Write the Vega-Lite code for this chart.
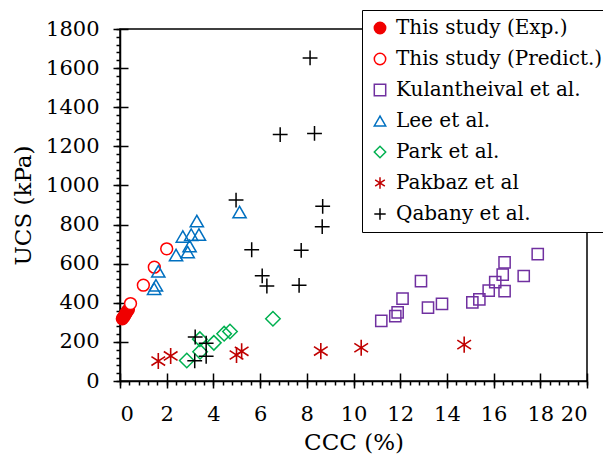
{
  "$schema": "https://vega.github.io/schema/vega-lite/v6.json",
  "width": 467,
  "height": 352,
  "autosize": {"type": "none"},
  "padding": {"left": 120, "top": 29, "right": 16, "bottom": 78},
  "background": "white",
  "config": {
    "view": {"stroke": "black", "strokeWidth": 1.5},
    "axis": {"domainColor": "black", "domainWidth": 1.5, "tickColor": "black", "tickWidth": 1.5, "grid": false}
  },
  "datasets": {
    "pts": [
      {"series": "This study (Exp.)", "ccc": 0.1, "ucs": 318},
      {"series": "This study (Exp.)", "ccc": 0.15, "ucs": 326},
      {"series": "This study (Exp.)", "ccc": 0.2, "ucs": 335},
      {"series": "This study (Exp.)", "ccc": 0.25, "ucs": 345},
      {"series": "This study (Exp.)", "ccc": 0.3, "ucs": 355},
      {"series": "This study (Exp.)", "ccc": 0.36, "ucs": 365},
      {"series": "This study (Predict.)", "ccc": 0.45, "ucs": 396},
      {"series": "This study (Predict.)", "ccc": 1.0, "ucs": 490},
      {"series": "This study (Predict.)", "ccc": 1.47, "ucs": 582},
      {"series": "This study (Predict.)", "ccc": 2.0, "ucs": 676},
      {"series": "Kulantheival et al.", "ccc": 11.19, "ucs": 307},
      {"series": "Kulantheival et al.", "ccc": 11.79, "ucs": 332},
      {"series": "Kulantheival et al.", "ccc": 11.89, "ucs": 351},
      {"series": "Kulantheival et al.", "ccc": 12.1, "ucs": 421},
      {"series": "Kulantheival et al.", "ccc": 12.89, "ucs": 511},
      {"series": "Kulantheival et al.", "ccc": 13.19, "ucs": 375},
      {"series": "Kulantheival et al.", "ccc": 13.79, "ucs": 394},
      {"series": "Kulantheival et al.", "ccc": 15.09, "ucs": 402},
      {"series": "Kulantheival et al.", "ccc": 15.39, "ucs": 417},
      {"series": "Kulantheival et al.", "ccc": 15.79, "ucs": 462},
      {"series": "Kulantheival et al.", "ccc": 16.07, "ucs": 506},
      {"series": "Kulantheival et al.", "ccc": 16.39, "ucs": 544},
      {"series": "Kulantheival et al.", "ccc": 16.47, "ucs": 460},
      {"series": "Kulantheival et al.", "ccc": 16.47, "ucs": 607},
      {"series": "Kulantheival et al.", "ccc": 17.29, "ucs": 537},
      {"series": "Kulantheival et al.", "ccc": 17.89, "ucs": 649},
      {"series": "Lee et al.", "ccc": 1.46, "ucs": 472},
      {"series": "Lee et al.", "ccc": 1.54, "ucs": 489},
      {"series": "Lee et al.", "ccc": 1.64, "ucs": 561},
      {"series": "Lee et al.", "ccc": 2.4, "ucs": 644},
      {"series": "Lee et al.", "ccc": 2.69, "ucs": 739},
      {"series": "Lee et al.", "ccc": 2.9, "ucs": 659},
      {"series": "Lee et al.", "ccc": 2.98, "ucs": 690},
      {"series": "Lee et al.", "ccc": 3.05, "ucs": 748},
      {"series": "Lee et al.", "ccc": 3.38, "ucs": 749},
      {"series": "Lee et al.", "ccc": 3.29, "ucs": 818},
      {"series": "Lee et al.", "ccc": 5.12, "ucs": 864},
      {"series": "Park et al.", "ccc": 2.86, "ucs": 105},
      {"series": "Park et al.", "ccc": 3.43, "ucs": 150},
      {"series": "Park et al.", "ccc": 3.42, "ucs": 214},
      {"series": "Park et al.", "ccc": 4.02, "ucs": 195},
      {"series": "Park et al.", "ccc": 4.46, "ucs": 242},
      {"series": "Park et al.", "ccc": 4.71, "ucs": 253},
      {"series": "Park et al.", "ccc": 6.55, "ucs": 318},
      {"series": "Pakbaz et al", "ccc": 1.64, "ucs": 102},
      {"series": "Pakbaz et al", "ccc": 2.17, "ucs": 128},
      {"series": "Pakbaz et al", "ccc": 4.99, "ucs": 133},
      {"series": "Pakbaz et al", "ccc": 5.21, "ucs": 152},
      {"series": "Pakbaz et al", "ccc": 8.6, "ucs": 153},
      {"series": "Pakbaz et al", "ccc": 10.33, "ucs": 170},
      {"series": "Pakbaz et al", "ccc": 14.74, "ucs": 186},
      {"series": "Qabany et al.", "ccc": 8.14, "ucs": 1652},
      {"series": "Qabany et al.", "ccc": 6.86, "ucs": 1260},
      {"series": "Qabany et al.", "ccc": 8.33, "ucs": 1266},
      {"series": "Qabany et al.", "ccc": 4.97, "ucs": 925},
      {"series": "Qabany et al.", "ccc": 8.68, "ucs": 893},
      {"series": "Qabany et al.", "ccc": 8.66, "ucs": 789},
      {"series": "Qabany et al.", "ccc": 5.64, "ucs": 671},
      {"series": "Qabany et al.", "ccc": 7.76, "ucs": 668},
      {"series": "Qabany et al.", "ccc": 6.09, "ucs": 538},
      {"series": "Qabany et al.", "ccc": 6.29, "ucs": 486},
      {"series": "Qabany et al.", "ccc": 7.67, "ucs": 489},
      {"series": "Qabany et al.", "ccc": 3.22, "ucs": 225},
      {"series": "Qabany et al.", "ccc": 3.69, "ucs": 193},
      {"series": "Qabany et al.", "ccc": 3.69, "ucs": 126},
      {"series": "Qabany et al.", "ccc": 3.2, "ucs": 103}
    ]
  },
  "data": {"name": "pts"},
  "encoding": {
    "x": {"field": "ccc", "type": "quantitative", "scale": {"domain": [0, 20], "nice": false, "zero": false}},
    "y": {"field": "ucs", "type": "quantitative", "scale": {"domain": [0, 1800], "nice": false, "zero": false}},
    "shape": {
      "field": "series", "type": "nominal", "title": null,
      "scale": {
        "domain": ["This study (Exp.)", "This study (Predict.)", "Kulantheival et al.", "Lee et al.", "Park et al.", "Pakbaz et al", "Qabany et al."],
        "range": ["circle", "circle", "square", "triangle-up", "diamond", "M0,-1V1M-0.85,-0.55L0.85,0.55M-0.85,0.55L0.85,-0.55", "M-1,0H1M0,-1V1"]
      },
      "legend": {
        "orient": "none", "legendX": 242, "legendY": -19,
        "fillColor": "white", "strokeColor": "black",
        "padding": 8, "rowPadding": 11, "labelOffset": 6,
        "symbolStrokeWidth": 1.5, "symbolSize": 130,
        "labelFont": "DejaVu Serif", "labelFontSize": 20, "labelColor": "black", "labelLimit": 400
      }
    },
    "stroke": {
      "field": "series", "type": "nominal", "title": null,
      "scale": {
        "domain": ["This study (Exp.)", "This study (Predict.)", "Kulantheival et al.", "Lee et al.", "Park et al.", "Pakbaz et al", "Qabany et al."],
        "range": ["#F00000", "#FF0000", "#7030A0", "#0070C0", "#00B050", "#C00000", "#000000"]
      }
    },
    "fill": {
      "field": "series", "type": "nominal", "title": null,
      "scale": {
        "domain": ["This study (Exp.)", "This study (Predict.)", "Kulantheival et al.", "Lee et al.", "Park et al.", "Pakbaz et al", "Qabany et al."],
        "range": ["#F00000", "#FFFFFF", "transparent", "transparent", "transparent", "transparent", "transparent"]
      }
    }
  },
  "layer": [
    {
      "transform": [{"filter": "datum.series === 'This study (Exp.)'"}],
      "mark": {"type": "point", "size": 140, "strokeWidth": 1.5, "opacity": 1, "fillOpacity": 1},
      "encoding": {
        "x": {"field": "ccc", "type": "quantitative", "title": "CCC (%)",
          "axis": {"orient": "bottom", "values": [0, 2, 4, 6, 8, 10, 12, 14, 16, 18, 20], "format": "d", "tickSize": 7, "labelPadding": 15, "titlePadding": 7, "labelOverlap": false,
            "labelFont": "DejaVu Serif", "labelFontSize": 21, "labelColor": "black",
            "titleFont": "DejaVu Serif", "titleFontSize": 23, "titleFontWeight": "normal", "titleColor": "black"}},
        "y": {"field": "ucs", "type": "quantitative", "title": "UCS (kPa)",
          "axis": {"orient": "left", "values": [0, 200, 400, 600, 800, 1000, 1200, 1400, 1600, 1800], "format": "d", "tickSize": 7, "labelPadding": 14, "titlePadding": 10, "labelOverlap": false,
            "labelFont": "DejaVu Serif", "labelFontSize": 21, "labelColor": "black",
            "titleFont": "DejaVu Serif", "titleFontSize": 23, "titleFontWeight": "normal", "titleColor": "black"}}
      }
    },
    {
      "transform": [{"filter": "datum.series === 'This study (Predict.)'"}],
      "mark": {"type": "point", "size": 140, "strokeWidth": 1.5, "opacity": 1, "fillOpacity": 1},
      "encoding": {
        "x": {"field": "ccc", "type": "quantitative", "title": null,
          "axis": {"orient": "bottom", "values": [0, 0.4, 0.8, 1.2, 1.6, 2, 2.4, 2.8, 3.2, 3.6, 4, 4.4, 4.8, 5.2, 5.6, 6, 6.4, 6.8, 7.2, 7.6, 8, 8.4, 8.8, 9.2, 9.6, 10, 10.4, 10.8, 11.2, 11.6, 12, 12.4, 12.8, 13.2, 13.6, 14, 14.4, 14.8, 15.2, 15.6, 16, 16.4, 16.8, 17.2, 17.6, 18, 18.4, 18.8, 19.2, 19.6, 20], "tickSize": 4, "labels": false, "domain": false}},
        "y": {"field": "ucs", "type": "quantitative", "title": null,
          "axis": {"orient": "left", "values": [0, 40, 80, 120, 160, 200, 240, 280, 320, 360, 400, 440, 480, 520, 560, 600, 640, 680, 720, 760, 800, 840, 880, 920, 960, 1000, 1040, 1080, 1120, 1160, 1200, 1240, 1280, 1320, 1360, 1400, 1440, 1480, 1520, 1560, 1600, 1640, 1680, 1720, 1760, 1800], "tickSize": 4, "labels": false, "domain": false}}
      }
    },
    {
      "transform": [{"filter": "datum.series === 'Kulantheival et al.'"}],
      "mark": {"type": "point", "size": 125, "strokeWidth": 1.5, "opacity": 1, "fillOpacity": 1},
      "encoding": {
        "x": {"field": "ccc", "type": "quantitative", "title": null,
          "axis": {"orient": "bottom", "values": [0, 2, 4, 6, 8, 10, 12, 14, 16, 18, 20], "tickSize": -8, "labels": false, "domain": false}},
        "y": {"field": "ucs", "type": "quantitative", "title": null,
          "axis": {"orient": "left", "values": [0, 200, 400, 600, 800, 1000, 1200, 1400, 1600, 1800], "tickSize": -8, "labels": false, "domain": false}}
      }
    },
    {
      "transform": [{"filter": "datum.series === 'Lee et al.'"}],
      "mark": {"type": "point", "size": 175, "strokeWidth": 1.5, "opacity": 1, "fillOpacity": 1},
      "encoding": {
        "x": {"field": "ccc", "type": "quantitative", "axis": null},
        "y": {"field": "ucs", "type": "quantitative", "axis": null}
      }
    },
    {
      "transform": [{"filter": "datum.series === 'Park et al.'"}],
      "mark": {"type": "point", "size": 210, "strokeWidth": 1.5, "opacity": 1, "fillOpacity": 1},
      "encoding": {
        "x": {"field": "ccc", "type": "quantitative", "axis": null},
        "y": {"field": "ucs", "type": "quantitative", "axis": null}
      }
    },
    {
      "transform": [{"filter": "datum.series === 'Pakbaz et al'"}],
      "mark": {"type": "point", "size": 260, "strokeWidth": 1.6, "opacity": 1, "fillOpacity": 1},
      "encoding": {
        "x": {"field": "ccc", "type": "quantitative", "axis": null},
        "y": {"field": "ucs", "type": "quantitative", "axis": null}
      }
    },
    {
      "transform": [{"filter": "datum.series === 'Qabany et al.'"}],
      "mark": {"type": "point", "size": 220, "strokeWidth": 1.5, "opacity": 1, "fillOpacity": 1},
      "encoding": {
        "x": {"field": "ccc", "type": "quantitative", "axis": null},
        "y": {"field": "ucs", "type": "quantitative", "axis": null}
      }
    }
  ],
  "resolve": {"axis": {"x": "independent", "y": "independent"}}
}
